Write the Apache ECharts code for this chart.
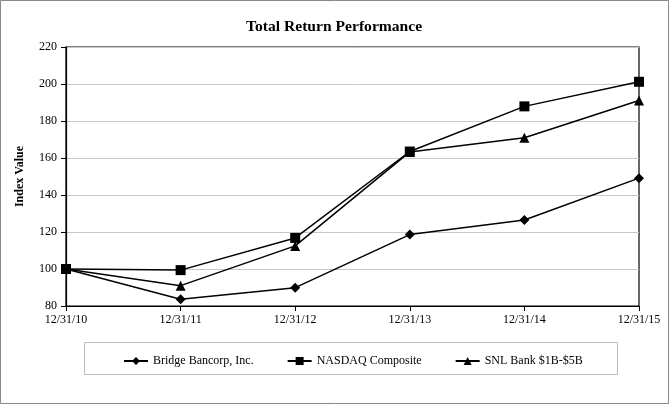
<!DOCTYPE html>
<html><head><meta charset="utf-8">
<script src="https://cdn.jsdelivr.net/npm/echarts@6/dist/echarts.min.js"></script>
<style>html,body{margin:0;padding:0;background:#fff}#c{width:670px;height:405px}</style>
</head><body><div id="c"></div>
<script>
var categories = ['12/31/10','12/31/11','12/31/12','12/31/13','12/31/14','12/31/15'];
var bridge = [100, 83.6, 89.9, 118.6, 126.5, 149.1];
var nasdaq = [100, 99.4, 116.8, 163.5, 187.9, 201.2];
var snl = [100, 91.0, 112.5, 163.3, 170.9, 191.1];
var seriesNames = ['Bridge Bancorp, Inc.', 'NASDAQ Composite', 'SNL Bank $1B-$5B'];

var font = '"Liberation Serif", "Times New Roman", serif';
var chart = echarts.init(document.getElementById('c'), null, {renderer:'canvas'});
function mk(name, data, symbol, size) {
  return {
    name: name, type: 'line', data: data, symbol: symbol, symbolSize: size,
    lineStyle: {color: '#000', width: 1.5}, itemStyle: {color: '#000'},
    animation: false
  };
}
chart.setOption({
  animation: false,
  textStyle: {fontFamily: font},
  title: {text: 'Total Return Performance', left: 241, top: 14,
    textStyle: {fontFamily: font, fontSize: 15.6, fontWeight: 'bold', color: '#000'}},
  graphic: [
    {type: 'rect', shape: {x: 0.5, y: 0.5, width: 668, height: 403},
     style: {fill: 'none', stroke: '#888', lineWidth: 1}, z: 100},
    {type: 'rect', shape: {x: 84.5, y: 342.5, width: 533, height: 32},
     style: {fill: 'none', stroke: '#bbb', lineWidth: 1}, z: 100}
  ],
  legend: {
    data: seriesNames, top: 350, left: 118, itemGap: 33,
    itemWidth: 24, itemHeight: 10,
    textStyle: {fontFamily: font, fontSize: 12, color: '#000'}
  },
  grid: {left: 66, right: 31, top: 47, bottom: 99, show: true,
    borderColor: '#000', borderWidth: 1.2},
  xAxis: {
    type: 'category', data: categories, boundaryGap: false,
    axisLine: {lineStyle: {color: '#000', width: 1.2}},
    axisTick: {show: true, length: 5, lineStyle: {color: '#000'}},
    axisLabel: {fontFamily: font, fontSize: 12, color: '#000', margin: 8, showMaxLabel: true, showMinLabel: true},
    splitLine: {show: false}
  },
  yAxis: {
    type: 'value', min: 80, max: 220, interval: 20,
    name: 'Index Value', nameLocation: 'middle', nameGap: 40,
    nameTextStyle: {fontFamily: font, fontSize: 12, fontWeight: 'bold', color: '#000'},
    axisLine: {show: true, lineStyle: {color: '#000', width: 1.2}},
    axisTick: {show: true, length: 5, lineStyle: {color: '#000'}},
    axisLabel: {fontFamily: font, fontSize: 12, color: '#000', margin: 9},
    splitLine: {show: true, lineStyle: {color: '#c8c8c8', width: 1}}
  },
  series: [
    mk(seriesNames[0], bridge, 'diamond', 10),
    mk(seriesNames[1], nasdaq, 'rect', 10),
    mk(seriesNames[2], snl, 'triangle', 10)
  ]
});
</script></body></html>
